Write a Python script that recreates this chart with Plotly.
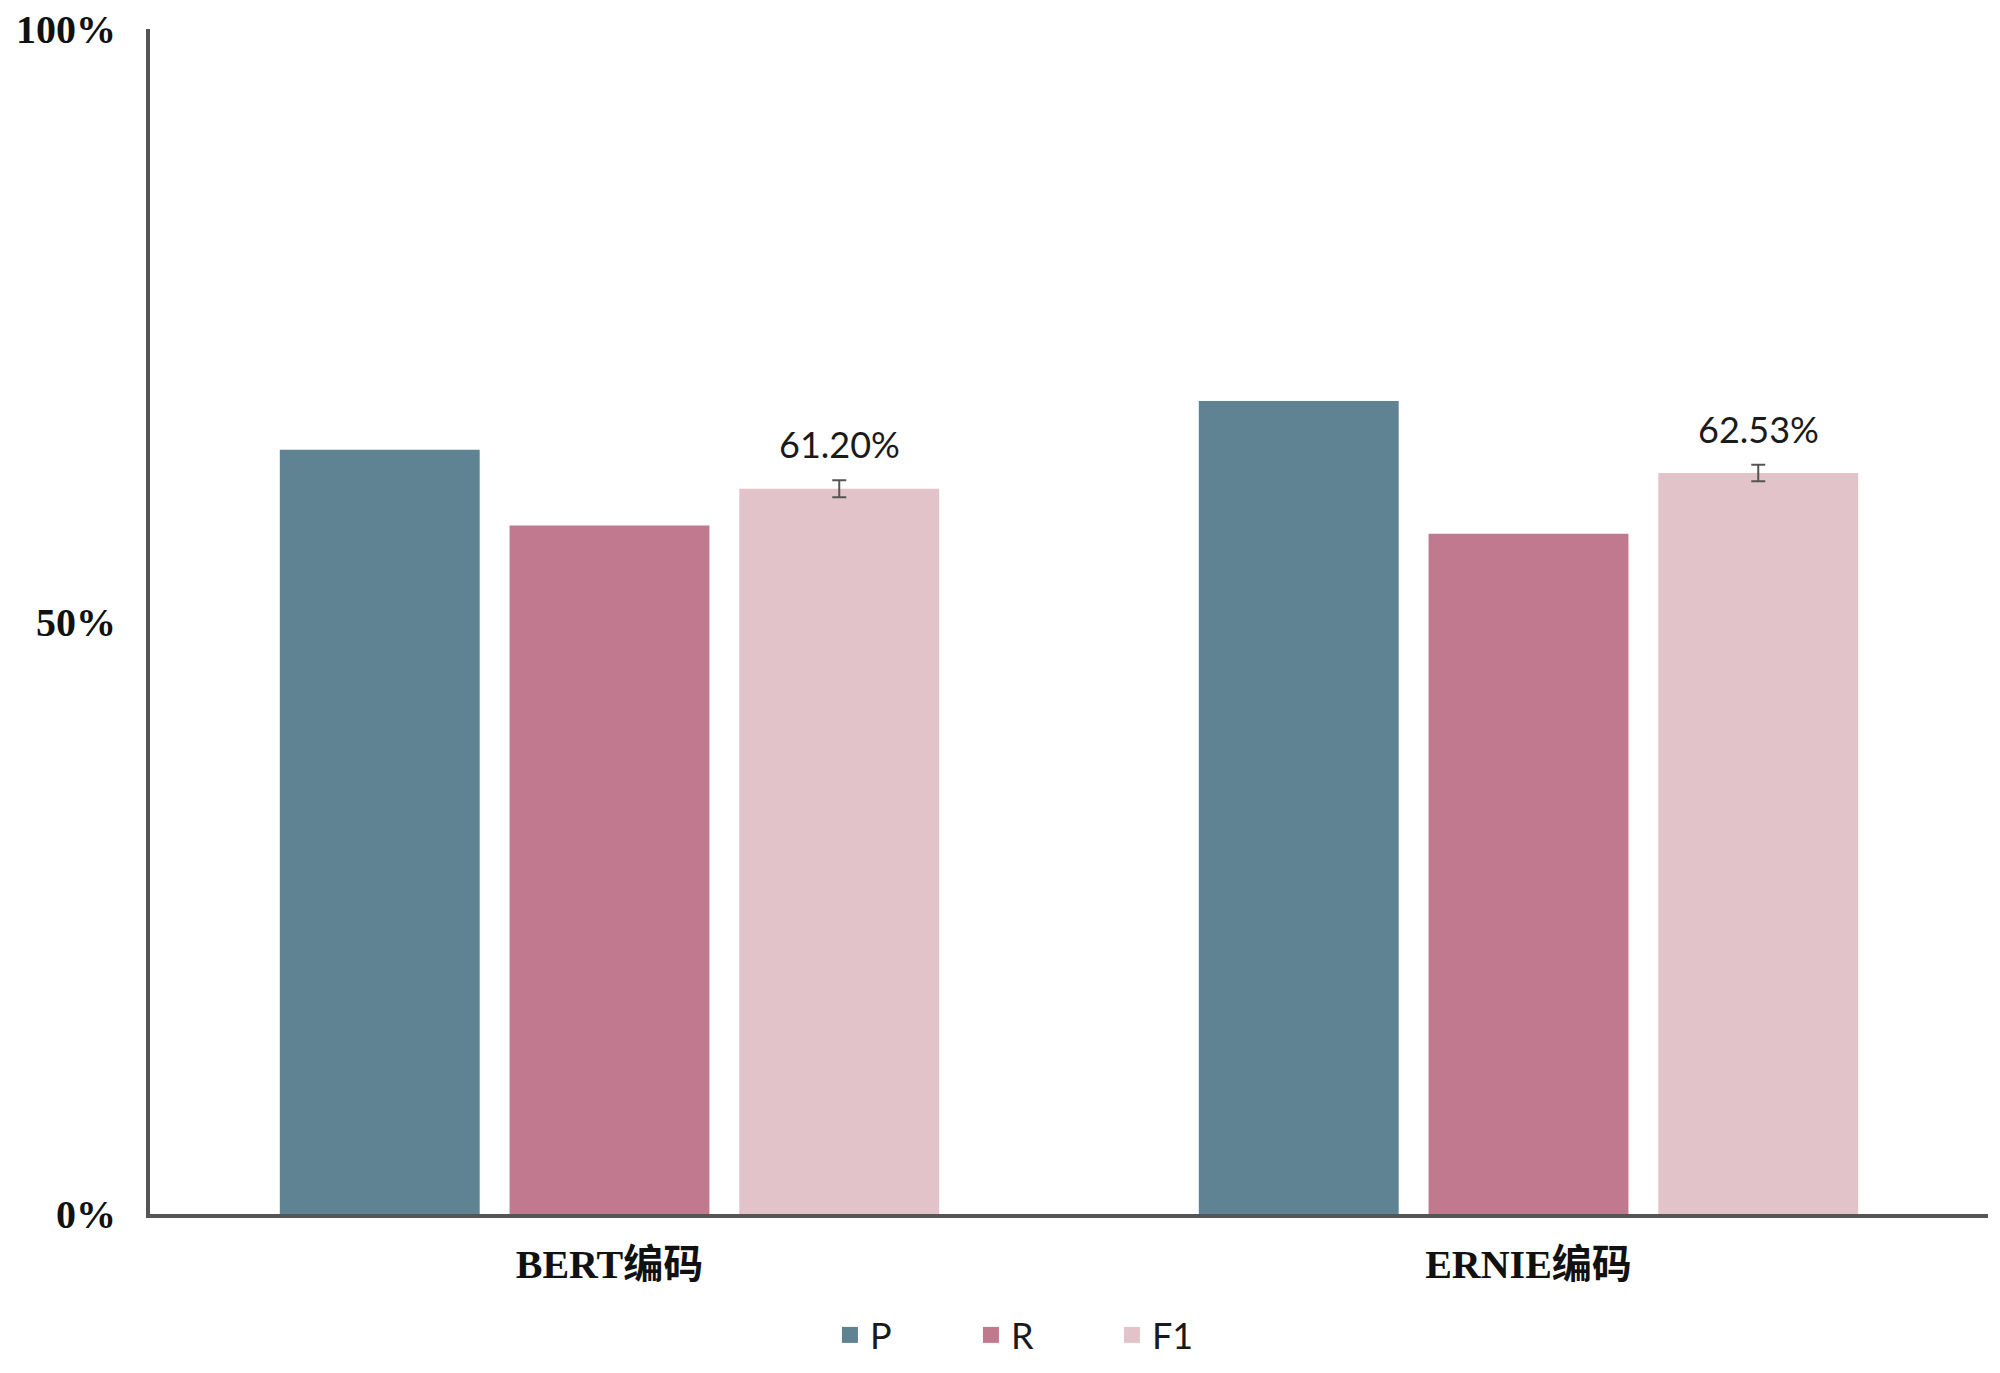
import plotly.graph_objects as go

categories = ["BERT编码", "ERNIE编码"]
series_names = ["P", "R", "F1"]
p_values = [0.645, 0.686]
r_values = [0.581, 0.574]
f1_values = [0.6120, 0.6253]
f1_errors = [0.0072, 0.0070]
f1_labels = ["61.20%", "62.53%"]
y_tickvals = [0, 0.5, 1.0]
y_ticktext = ["0%", "50%", "100%"]

colors = {"P": "#608394", "R": "#C1798F", "F1": "#E3C3CA"}
axis_color = "#555555"
label_font = "Lato"

# page body adds an 8px margin, so the figure is sized to fit inside it
W, H = 1984, 1357
ML, MR, MT, MB = 142, 4, 21, 151
BARGAP, BARGROUPGAP = 0.25, 0.13

fig = go.Figure()
series_values = {"P": p_values, "R": r_values, "F1": f1_values}
for name in series_names:
    kw = {}
    if name == "F1":
        kw["error_y"] = dict(type="data", array=f1_errors, visible=True,
                             color="#555555", thickness=2, width=7)
    fig.add_trace(go.Bar(x=categories, y=series_values[name], name=name,
                         marker=dict(color=colors[name], line=dict(width=0)),
                         showlegend=False, **kw))
    # legend proxies
    fig.add_trace(go.Scatter(x=[None], y=[None], mode="markers", name=name,
                             marker=dict(symbol="square", size=19, color=colors[name]),
                             showlegend=True, hoverinfo="skip"))

# label annotations above F1 bars, offset to the F1 slot
plot_w = W - ML - MR
cat_w = plot_w / len(categories)
slot = cat_w * (1 - BARGAP) / len(series_names)
for cat, v, e, t in zip(categories, f1_values, f1_errors, f1_labels):
    fig.add_annotation(x=cat, y=v + e, text=t, showarrow=False, xshift=slot,
                       yanchor="bottom", yshift=12,
                       font=dict(family=label_font, size=36, color="#1a1a1a"))

fig.update_layout(
    width=W, height=H,
    margin=dict(l=ML, r=MR, t=MT, b=MB, autoexpand=False),
    paper_bgcolor="white", plot_bgcolor="white",
    barmode="group", bargap=BARGAP, bargroupgap=BARGROUPGAP,
    legend=dict(orientation="h", x=0.485, xanchor="center", y=0, yref="container",
                yanchor="bottom", font=dict(family=label_font, size=36, color="#1a1a1a"),
                entrywidth=96, itemwidth=30, bgcolor="rgba(0,0,0,0)"),
    xaxis=dict(showline=True, linecolor=axis_color, linewidth=4, showgrid=False,
               ticks="", zeroline=False, automargin=False,
               tickfont=dict(family="Liberation Serif, Noto Sans CJK SC", size=40,
                             color="#111111", weight="bold"),
               ticklabelstandoff=12, ticklabeloverflow="allow"),
    yaxis=dict(range=[0, 1.0], showline=True, linecolor=axis_color, linewidth=4,
               showgrid=False, zeroline=False, ticks="", automargin=False,
               tickvals=y_tickvals, ticktext=y_ticktext,
               tickfont=dict(family="Liberation Serif", size=40, color="#111111",
                             weight="bold"),
               ticklabelstandoff=22, ticklabeloverflow="allow"),
)

fig.write_html("out.html")
